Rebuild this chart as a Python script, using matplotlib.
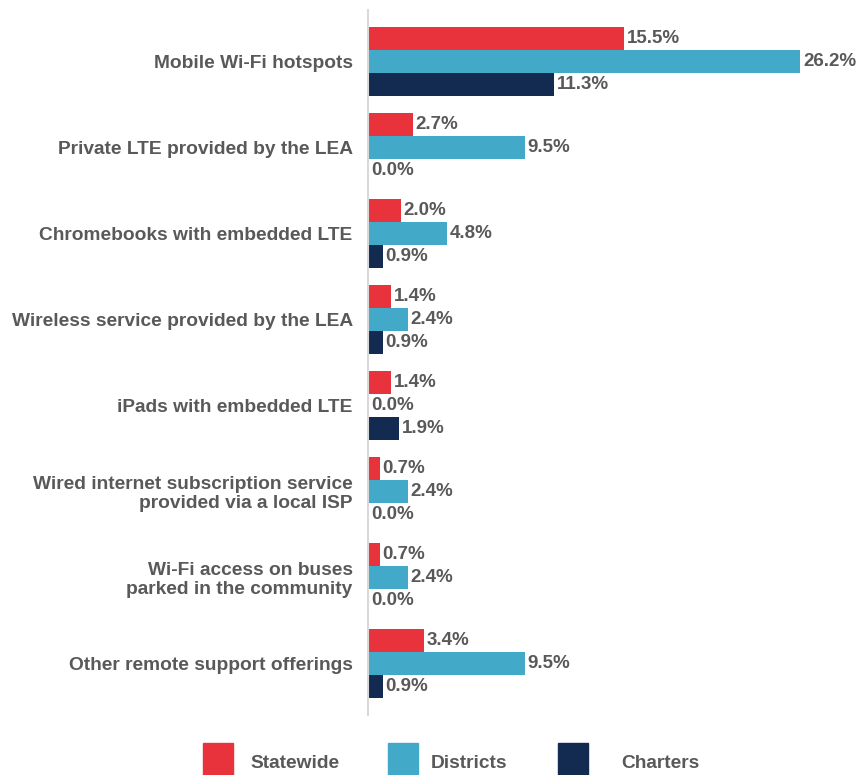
import numpy as np
import matplotlib.pyplot as plt
from matplotlib.patches import Rectangle

categories = [
    "Mobile Wi-Fi hotspots",
    "Private LTE provided by the LEA",
    "Chromebooks with embedded LTE",
    "Wireless service provided by the LEA",
    "iPads with embedded LTE",
    "Wired internet subscription service\nprovided via a local ISP",
    "Wi-Fi access on buses\nparked in the community",
    "Other remote support offerings",
]
statewide = [15.5, 2.7, 2.0, 1.4, 1.4, 0.7, 0.7, 3.4]
districts = [26.2, 9.5, 4.8, 2.4, 0.0, 2.4, 2.4, 9.5]
charters = [11.3, 0.0, 0.9, 0.9, 1.9, 0.0, 0.0, 0.9]
series_names = ["Statewide", "Districts", "Charters"]
colors = ["#E8323C", "#42AAC8", "#132B50"]
grey = "#595959"

plt.rcParams['font.family'] = ['Liberation Sans', 'DejaVu Sans']
plt.rcParams['font.weight'] = 'bold'

fig = plt.figure(figsize=(8.57, 7.75), dpi=100)
W, H = 857, 775
ax = fig.add_axes([368 / W, 1 - 715 / H, (857 - 368) / W, (715 - 10) / H])

y = np.arange(len(categories))
h = 0.267
for k, (vals, c) in enumerate(zip([statewide, districts, charters], colors)):
    bars = ax.barh(y + (k - 1) * h, vals, height=h, color=c)
    ax.bar_label(bars, labels=[f"{v:.1f}%" for v in vals], padding=2,
                 fontsize=13.5, color=grey, fontweight='bold')

ax.set_xlim(0, 29.65)
ax.set_ylim(7.6, -0.6)
ax.set_yticks(y)
ax.set_yticklabels(categories, fontsize=13.75, color=grey, fontweight='bold',
                   linespacing=1.15)
ax.tick_params(axis='y', length=0, pad=11)
ax.set_xticks([])
for s in ['top', 'right', 'bottom']:
    ax.spines[s].set_visible(False)
ax.spines['left'].set_color('#D9D9D9')
ax.spines['left'].set_linewidth(1.5)

# legend at the bottom
sq = [203, 388, 558]
tx = [250, 431, 621]
for name, c, x0, x1 in zip(series_names, colors, sq, tx):
    fig.add_artist(Rectangle((x0 / W, 1 - 775 / H), 30 / W, 32 / H,
                             transform=fig.transFigure, color=c))
    fig.text(x1 / W, 1 - 763 / H, name, fontsize=13.75, color=grey,
             fontweight='bold', va='center', ha='left')

fig.savefig("out.png", dpi=100)
